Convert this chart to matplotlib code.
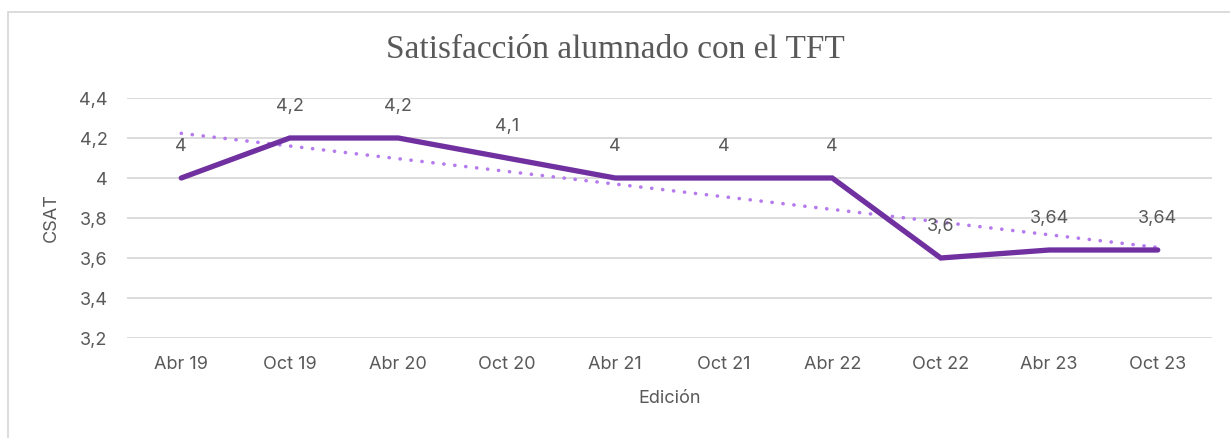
import matplotlib
matplotlib.use("Agg")
import matplotlib.pyplot as plt
import matplotlib.patches as patches
import numpy as np

categories = ["Abr 19", "Oct 19", "Abr 20", "Oct 20", "Abr 21", "Oct 21", "Abr 22", "Oct 22", "Abr 23", "Oct 23"]
csat = [4, 4.2, 4.2, 4.1, 4, 4, 4, 3.6, 3.64, 3.64]
labels = ["4", "4,2", "4,2", "4,1", "4", "4", "4", "3,6", "3,64", "3,64"]
yticks = [3.2, 3.4, 3.6, 3.8, 4.0, 4.2, 4.4]
ytick_labels = ["3,2", "3,4", "3,6", "3,8", "4", "4,2", "4,4"]

TXT = "#595959"
FONT = "Inter"
FS = 13

fig = plt.figure(figsize=(12.3, 4.38), dpi=100)
ax = fig.add_axes([127/1230, 1-338/438, (1212-127)/1230, (338-98)/438])

x = np.arange(len(categories))
# trendline (linear fit)
m, b = np.polyfit(x, csat, 1)
ax.plot(x, m*x + b, color="#B57BEE", lw=2.6, linestyle=(0, (0.05, 3.0)), dash_capstyle="round", zorder=2)
ax.plot(x, csat, color="#7030A0", lw=3.8, solid_capstyle="round", solid_joinstyle="miter", zorder=3)

for xi, yi, lab in zip(x, csat, labels):
    ax.annotate(lab, (xi, yi), xytext=(0, 23), textcoords="offset points", ha="center", va="center",
                fontsize=FS, color=TXT, family=FONT, zorder=4)

ax.set_xlim(-0.5, len(categories)-0.5)
ax.set_ylim(3.2, 4.4)
ax.set_yticks(yticks)
ax.set_yticklabels(ytick_labels, fontsize=FS, color=TXT, family=FONT)
ax.set_xticks(x)
ax.set_xticklabels(categories, fontsize=FS, color=TXT, family=FONT)
ax.tick_params(length=0, pad=14)
ax.tick_params(axis="x", pad=13)
ax.grid(axis="y", color="#D9D9D9", lw=1.3)
ax.set_axisbelow(True)
for s in ax.spines.values():
    s.set_visible(False)

ax.set_ylabel("CSAT", fontsize=FS, color=TXT, family=FONT, labelpad=14)
ax.set_xlabel("Edición", fontsize=FS, color=TXT, family=FONT, labelpad=12)

fig.text(0.5, 1-50/438, "Satisfacción alumnado con el TFT", ha="center", va="center",
         fontsize=24, color=TXT, family="Liberation Serif")

fig.patches.append(patches.Rectangle((8/1230, -0.1), 1.2, 1-12/438+0.1, transform=fig.transFigure,
                                     fill=False, edgecolor="#D9D9D9", lw=1.3))

fig.savefig("out.png", dpi=100)
